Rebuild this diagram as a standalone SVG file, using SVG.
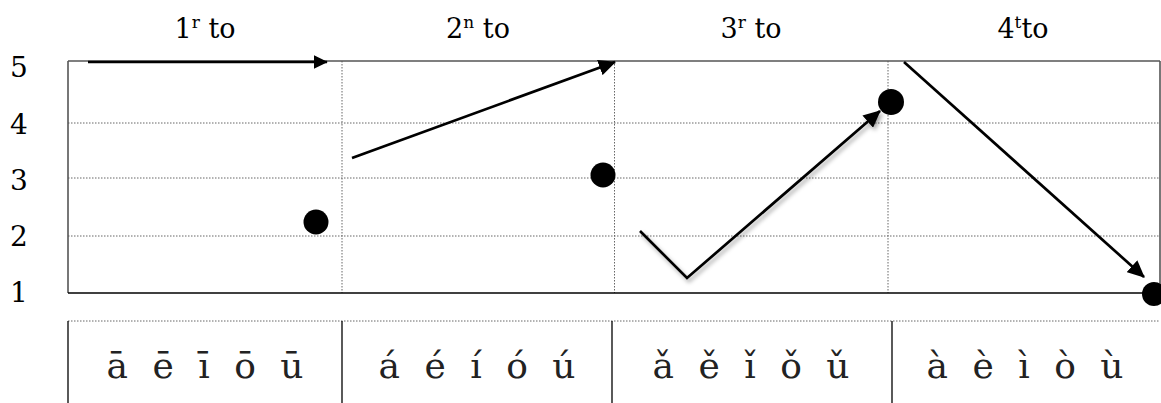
<svg xmlns="http://www.w3.org/2000/svg" width="1161" height="403" viewBox="0 0 1161 403">
<style>
.lbl{font-family:"DejaVu Serif","Liberation Serif",serif;font-size:27px;fill:#000}
.ax{font-family:"DejaVu Serif","Liberation Serif",serif;font-size:28px;fill:#000}
.cell{font-family:"DejaVu Serif","Liberation Serif",serif;font-size:36px;fill:#222;text-anchor:middle;word-spacing:13px}
.grid{stroke:#666;stroke-width:1;stroke-dasharray:1.5 1.5;fill:none}
.frame{stroke:#555;stroke-width:1.6;fill:none}
.tline{stroke:#000;stroke-width:1.3;fill:none}
.conn{stroke:#000;stroke-width:2.7;fill:none}
.dot{fill:#000}
</style>
<defs>
<marker id="ah" markerWidth="6.4" markerHeight="6" refX="6" refY="3" orient="auto" markerUnits="strokeWidth" viewBox="0 0 6.4 6">
<path d="M0,0 L6.4,3 L0,6 z" fill="#000"/>
</marker>
<marker id="ah2" markerWidth="5.2" markerHeight="5" refX="4.9" refY="2.5" orient="auto" markerUnits="strokeWidth" viewBox="0 0 5.2 5">
<path d="M0,0 L5.2,2.5 L0,5 z" fill="#000"/>
</marker>
<filter id="sh" x="-10%" y="-10%" width="130%" height="130%">
<feDropShadow dx="2" dy="3" stdDeviation="2" flood-color="#000" flood-opacity="0.35"/>
</filter>
</defs>
<g id="labels">
<text class="lbl" x="205" y="38" text-anchor="middle">1<tspan font-size="17" dy="-10">r</tspan><tspan dy="10"> to</tspan></text>
<text class="lbl" x="478" y="38" text-anchor="middle">2<tspan font-size="17" dy="-10">n</tspan><tspan dy="10"> to</tspan></text>
<text class="lbl" x="751" y="38" text-anchor="middle">3<tspan font-size="17" dy="-10">r</tspan><tspan dy="10"> to</tspan></text>
<text class="lbl" x="1023" y="38" text-anchor="middle">4<tspan font-size="17" dy="-10">t</tspan><tspan dy="10">to</tspan></text>
<text class="ax" x="10" y="77">5</text>
<text class="ax" x="10" y="134">4</text>
<text class="ax" x="10" y="190">3</text>
<text class="ax" x="10" y="246">2</text>
<text class="ax" x="10" y="302">1</text>
</g>
<g id="chart">
<line class="grid" x1="68" y1="123" x2="1160" y2="123"/>
<line class="grid" x1="68" y1="178" x2="1160" y2="178"/>
<line class="grid" x1="68" y1="236" x2="1160" y2="236"/>
<line class="grid" x1="342" y1="61" x2="342" y2="293"/>
<line class="grid" x1="614.5" y1="61" x2="614.5" y2="293"/>
<line class="grid" x1="888" y1="61" x2="888" y2="293"/>
<line class="frame" x1="68" y1="61" x2="1160" y2="61"/>
<line class="frame" x1="68" y1="61" x2="68" y2="293"/>
<line class="frame" x1="1160" y1="61" x2="1160" y2="293"/>
<line class="tline" x1="68" y1="293" x2="1160" y2="293"/>
</g>
<g id="table">
<line class="grid" x1="68" y1="321" x2="1160" y2="321"/>
<line class="tline" x1="68" y1="321" x2="68" y2="403"/>
<line class="tline" x1="342" y1="321" x2="342" y2="403"/>
<line class="tline" x1="612" y1="321" x2="612" y2="403"/>
<line class="tline" x1="892" y1="321" x2="892" y2="403"/>
<text class="cell" x="205" y="378">ā ē ī ō ū</text>
<text class="cell" x="477" y="378">á é í ó ú</text>
<text class="cell" x="751" y="378">ǎ ě ǐ ǒ ǔ</text>
<text class="cell" x="1025" y="378">à è ì ò ù</text>
</g>
<g id="connectors">
<line class="conn" x1="88" y1="62" x2="327" y2="62" stroke-width="3" marker-end="url(#ah2)"/>
<line class="conn" x1="352" y1="158" x2="615" y2="62" marker-end="url(#ah)"/>
<polyline class="conn" points="640,231 687,278 880,111" marker-end="url(#ah)" filter="url(#sh)"/>
<line class="conn" x1="904" y1="62" x2="1144" y2="277" marker-end="url(#ah)"/>
</g>
<g id="dot1"><circle class="dot" cx="316" cy="222" r="12.5"/></g>
<g id="dot2"><circle class="dot" cx="603" cy="175" r="12.5"/></g>
<g id="dot3"><circle class="dot" cx="891" cy="102" r="13"/></g>
<g id="dot4"><circle class="dot" cx="1154" cy="294" r="12"/></g>
</svg>
